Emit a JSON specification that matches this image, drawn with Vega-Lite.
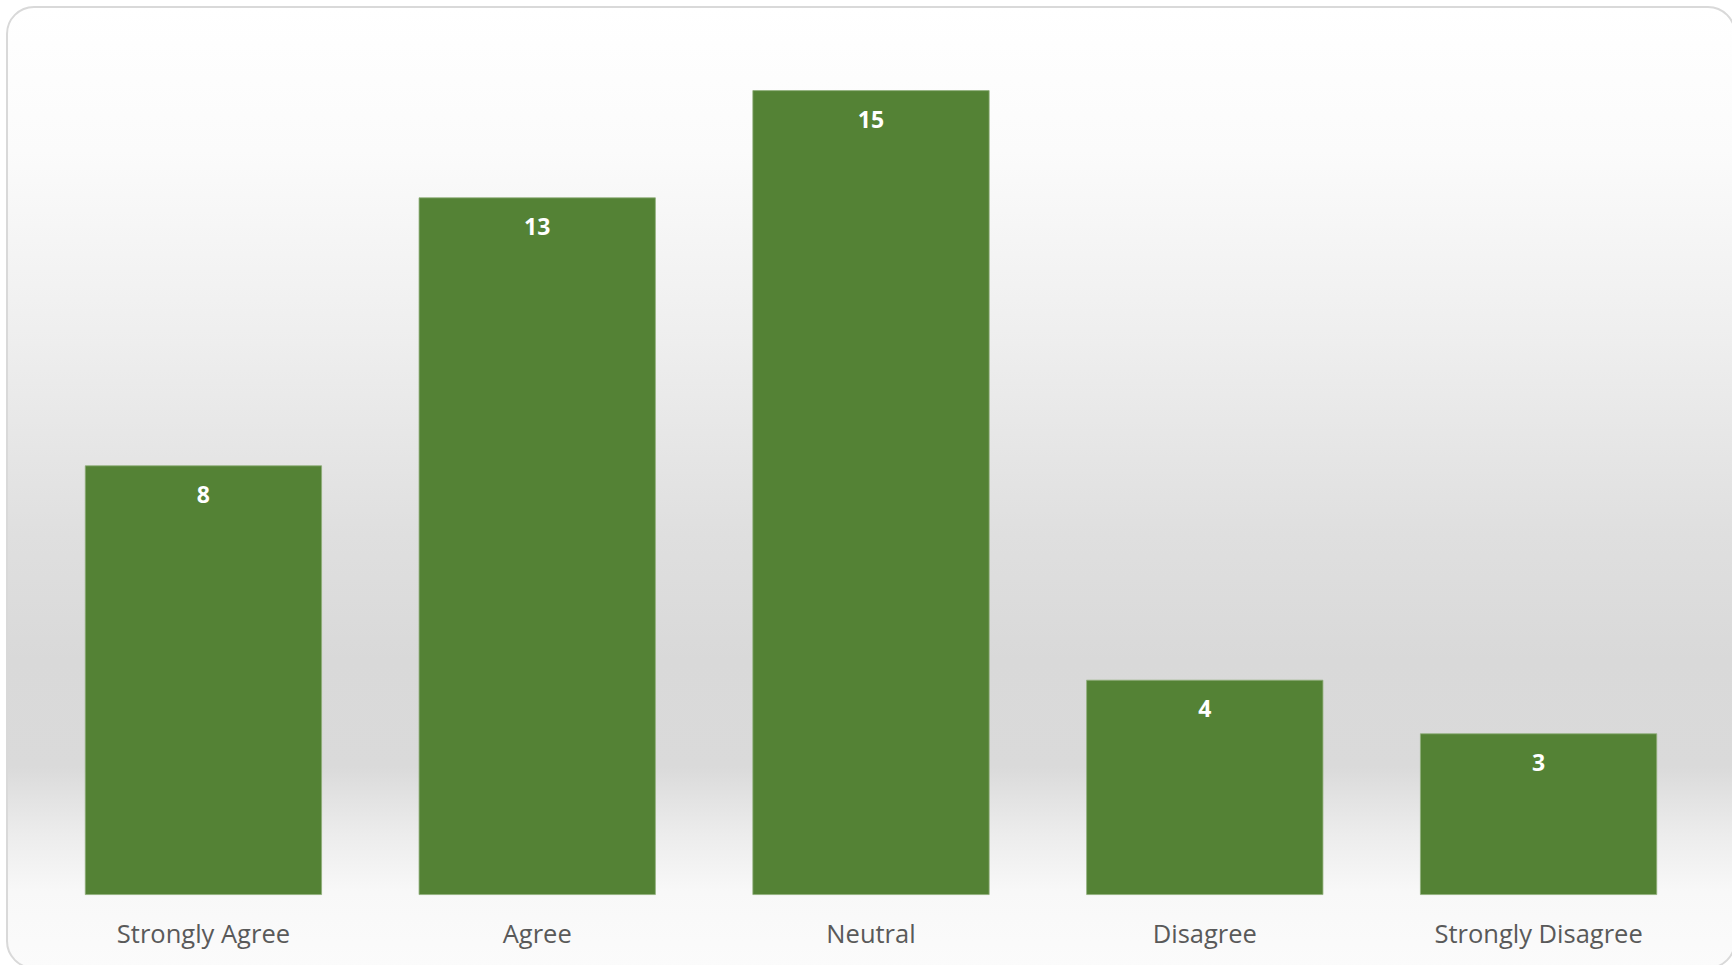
{
  "$schema": "https://vega.github.io/schema/vega-lite/v6.json",
  "width": 1728,
  "height": 961,
  "padding": {"left": 7, "top": 7, "right": 0, "bottom": 0},
  "autosize": {"type": "none"},
  "background": "#ffffff",
  "config": {
    "view": {
      "fill": {
        "gradient": "linear", "x1": 0, "y1": 0, "x2": 0, "y2": 1,
        "stops": [
          {"offset": 0, "color": "#ffffff"},
          {"offset": 0.15, "color": "#fbfbfb"},
          {"offset": 0.35, "color": "#eeeeee"},
          {"offset": 0.55, "color": "#dfdfdf"},
          {"offset": 0.68, "color": "#d9d9d9"},
          {"offset": 0.79, "color": "#dadada"},
          {"offset": 0.86, "color": "#ececec"},
          {"offset": 0.92, "color": "#f8f8f8"},
          {"offset": 1, "color": "#fbfbfb"}
        ]
      },
      "stroke": "#d9d9d9",
      "strokeWidth": 2,
      "cornerRadius": 27
    }
  },
  "data": {
    "values": [
      {"response": "Strongly Agree", "count": 8},
      {"response": "Agree", "count": 13},
      {"response": "Neutral", "count": 15},
      {"response": "Disagree", "count": 4},
      {"response": "Strongly Disagree", "count": 3}
    ]
  },
  "encoding": {
    "x": {
      "field": "response",
      "type": "nominal",
      "sort": null,
      "axis": null,
      "scale": {"paddingInner": 0.292, "paddingOuter": 0.2345}
    }
  },
  "layer": [
    {
      "mark": {"type": "bar", "color": "#548235", "stroke": "#8fae7a", "strokeWidth": 0.8},
      "encoding": {
        "y": {
          "field": "count",
          "type": "quantitative",
          "axis": null,
          "scale": {"domain": [-1.37, 16.56], "zero": false, "nice": false}
        },
        "y2": {"datum": 0}
      }
    },
    {
      "mark": {"type": "text", "color": "#ffffff", "font": "Open Sans", "fontSize": 23, "fontWeight": "bold", "baseline": "alphabetic", "dy": 37},
      "encoding": {
        "y": {"field": "count", "type": "quantitative"},
        "text": {"field": "count", "type": "quantitative"}
      }
    },
    {
      "mark": {"type": "text", "color": "#595959", "font": "Open Sans", "fontSize": 25.5, "baseline": "alphabetic", "dy": 48},
      "encoding": {
        "y": {"datum": 0},
        "text": {"field": "response", "type": "nominal"}
      }
    }
  ]
}
